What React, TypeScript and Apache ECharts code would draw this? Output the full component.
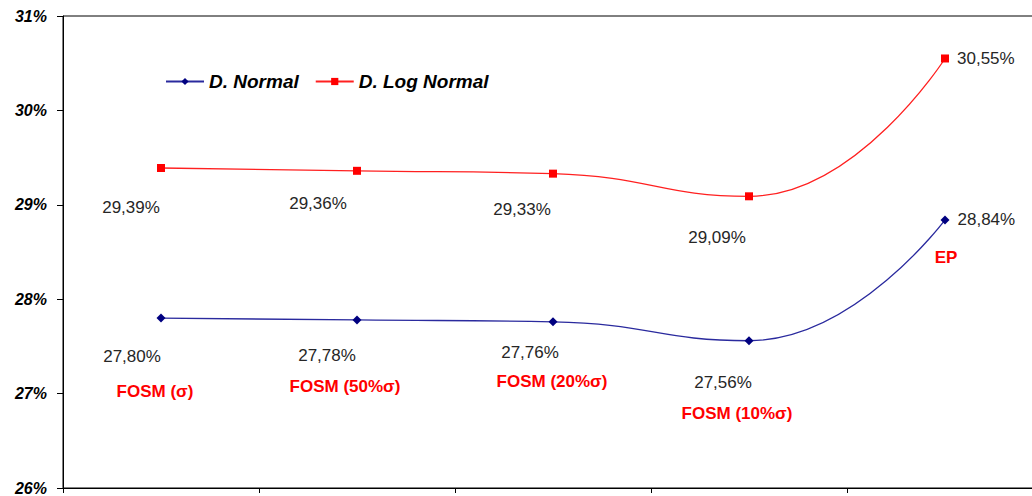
import React, { useEffect, useRef } from "react";
import * as echarts from "echarts";

const categories = ["FOSM (σ)", "FOSM (50%σ)", "FOSM (20%σ)", "FOSM (10%σ)", "EP"];
const normalValues = [27.8, 27.78, 27.76, 27.56, 28.84];
const logNormalValues = [29.39, 29.36, 29.33, 29.09, 30.55];
const yTicks = { min: 26, max: 31, interval: 1 };

// label offsets (styling only)
const normalLabelOffsets = [[-29, 38], [-30, 36], [-23, 31], [-26, 42]];
const logLabelOffsets = [[-30, 40], [-39, 33], [-31, 36], [-32, 41]];
const annotationOffsets = [[-6, 73], [-12, 67], [-1, 60], [-12, 73], [1, 38]];

const fmt = (v: number) => v.toFixed(2).replace(".", ",") + "%";

const labelFont = {
  fontFamily: "'Liberation Sans', Arial, sans-serif",
  fontSize: 17,
  color: "#262626",
};

function buildData(values: number[], offsets: number[][]) {
  return values.map((v, i) => {
    const last = i === values.length - 1;
    return {
      value: v,
      label: last
        ? { show: true, position: "right", distance: 8, formatter: () => fmt(v), ...labelFont }
        : { show: true, position: "inside", offset: offsets[i], formatter: () => fmt(v), ...labelFont },
    };
  });
}

export default function App() {
  const ref = useRef<HTMLDivElement>(null);
  useEffect(() => {
    if (!ref.current) return;
    const chart = echarts.init(ref.current, null, { renderer: "svg" });
    chart.setOption({
      animation: false,
      backgroundColor: "#fff",
      grid: {
        left: 63,
        top: 16,
        width: 980,
        height: 472,
        show: true,
        borderColor: "#000",
        borderWidth: 1,
        backgroundColor: "transparent",
      },
      legend: {
        left: 160,
        top: 67,
        itemWidth: 38,
        itemHeight: 9,
        itemGap: 16,
        textStyle: {
          fontFamily: "'Liberation Sans', Arial, sans-serif",
          fontStyle: "italic",
          fontWeight: "bold",
          fontSize: 19,
          color: "#000",
        },
        data: ["D. Normal", "D. Log Normal"],
      },
      xAxis: {
        type: "category",
        data: categories,
        boundaryGap: true,
        axisLine: { lineStyle: { color: "#000", width: 1 } },
        axisTick: { show: true, length: 5, lineStyle: { color: "#000" } },
        axisLabel: { show: false },
        splitLine: { show: false },
      },
      yAxis: {
        type: "value",
        min: yTicks.min,
        max: yTicks.max,
        interval: yTicks.interval,
        axisLine: { show: true, lineStyle: { color: "#000", width: 1 } },
        axisTick: { show: true, length: 6, lineStyle: { color: "#000" } },
        splitLine: { show: false },
        axisLabel: {
          margin: 16,
          formatter: "{value}%",
          fontFamily: "'Liberation Sans', Arial, sans-serif",
          fontStyle: "italic",
          fontWeight: "bold",
          fontSize: 16,
          color: "#000",
        },
      },
      series: [
        {
          name: "D. Normal",
          type: "line",
          smooth: 0.5,
          symbol: "diamond",
          symbolSize: 9,
          itemStyle: { color: "#000080" },
          lineStyle: { color: "#2a2a9e", width: 1.3 },
          data: buildData(normalValues, normalLabelOffsets),
          markPoint: {
            symbol: "circle",
            symbolSize: 0,
            silent: true,
            data: categories.map((c, i) => ({
              coord: [i, normalValues[i]],
              label: {
                show: true,
                position: "inside",
                offset: annotationOffsets[i],
                formatter: c,
                fontFamily: "'Liberation Sans', Arial, sans-serif",
                fontWeight: "bold",
                fontSize: 17,
                color: "#ff0000",
              },
            })),
          },
        },
        {
          name: "D. Log Normal",
          type: "line",
          smooth: 0.5,
          symbol: "rect",
          symbolSize: 8,
          itemStyle: { color: "#ff0000" },
          lineStyle: { color: "#ff2020", width: 1.3 },
          data: buildData(logNormalValues, logLabelOffsets),
        },
      ],
    });
    return () => chart.dispose();
  }, []);
  return (
    <div
      ref={ref}
      style={{ position: "fixed", left: 0, top: 0, width: 1060, height: 496, background: "#fff" }}
    />
  );
}
